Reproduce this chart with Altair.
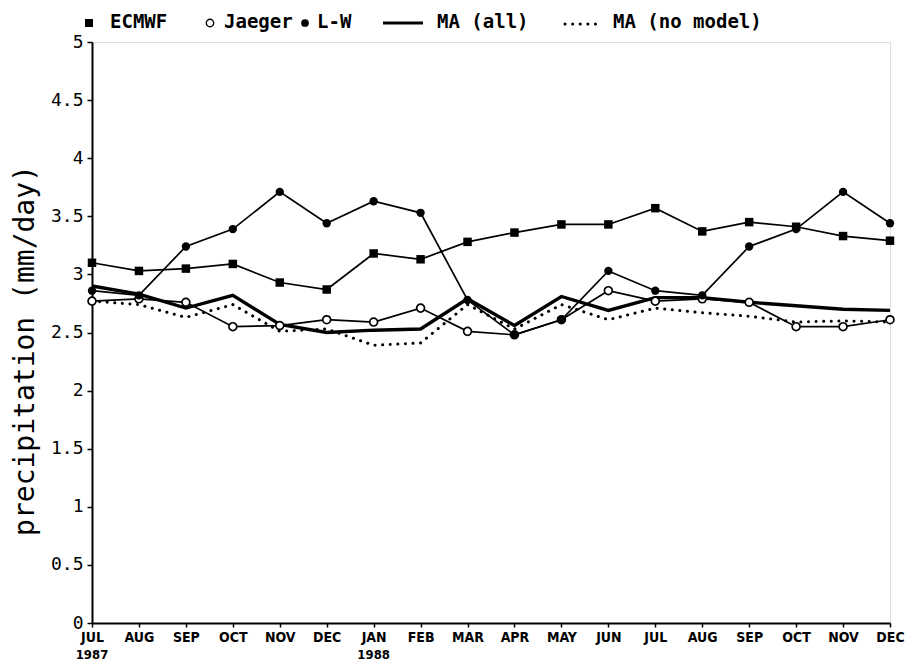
import altair as alt
import pandas as pd

# Monthly precipitation estimates, July 1987 - December 1988 (mm/day)
months = ["JUL", "AUG", "SEP", "OCT", "NOV", "DEC", "JAN", "FEB", "MAR",
          "APR", "MAY", "JUN", "JUL", "AUG", "SEP", "OCT", "NOV", "DEC"]
years = ["1987", "", "", "", "", "", "1988", "", "", "", "", "", "", "", "", "", "", ""]

ecmwf = [3.10, 3.03, 3.05, 3.09, 2.93, 2.87, 3.18, 3.13, 3.28,
         3.36, 3.43, 3.43, 3.57, 3.37, 3.45, 3.41, 3.33, 3.29]
jaeger = [2.77, 2.79, 2.76, 2.55, 2.56, 2.61, 2.59, 2.71, 2.51,
          2.48, 2.61, 2.86, 2.77, 2.79, 2.76, 2.55, 2.55, 2.61]
lw = [2.86, 2.82, 3.24, 3.39, 3.71, 3.44, 3.63, 3.53, 2.78,
      2.48, 2.61, 3.03, 2.86, 2.82, 3.24, 3.39, 3.71, 3.44]
ma_all = [2.90, 2.83, 2.71, 2.82, 2.57, 2.50, 2.52, 2.53, 2.79,
          2.56, 2.81, 2.69, 2.80, 2.80, 2.76, 2.73, 2.70, 2.69]
ma_nomodel = [2.77, 2.74, 2.63, 2.74, 2.51, 2.53, 2.39, 2.41, 2.74,
              2.53, 2.74, 2.61, 2.71, 2.67, 2.64, 2.59, 2.60, 2.59]

legend_names = ["ECMWF", "Jaeger", "L-W", "MA (all)", "MA (no model)"]

idx = list(range(len(months)))
df = pd.DataFrame({
    "i": idx,
    "year": years,
    "ECMWF": ecmwf,
    "Jaeger": jaeger,
    "L-W": lw,
    "MA (all)": ma_all,
    "MA (no model)": ma_nomodel,
})

W, H = 798, 581
CONDENSED = "DejaVu Sans Condensed"
MONO = "DejaVu Sans Mono"

months_js = "[" + ",".join(f"'{m}'" for m in months) + "]"

x = alt.X("i:Q",
          scale=alt.Scale(domain=[0, len(months) - 1], nice=False, zero=False),
          axis=alt.Axis(values=idx, labelExpr=f"{months_js}[datum.value]", title=None,
                        grid=False, domainColor="black", domainWidth=2, tickColor="black",
                        tickSize=4, tickWidth=1.5, labelFont=CONDENSED,
                        labelFontSize=14, labelFontWeight="bold", labelColor="black",
                        labelPadding=3, labelFlush=False, labelBaseline="top"))
y_ticks = [v / 2 for v in range(11)]


def yenc(col):
    return alt.Y(f"{col}:Q",
                 scale=alt.Scale(domain=[0, 5], nice=False),
                 axis=alt.Axis(values=y_ticks, format="~g", title="precipitation (mm/day)",
                               grid=False, domainColor="black", domainWidth=2,
                               tickColor="black", tickSize=5, tickWidth=1.5,
                               labelFont=MONO, labelFontSize=18, labelColor="black",
                               labelPadding=4, titleFont=MONO, titleFontSize=28,
                               titleFontWeight="normal", titleColor="black",
                               titleAngle=270, titleAlign="center",
                               titleBaseline="middle", titleX=-67, titleY=308))


base = alt.Chart(df)

ecmwf_line = base.mark_line(color="black", strokeWidth=1.7).encode(x=x, y=yenc("ECMWF"))
ecmwf_pts = base.mark_point(shape="square", filled=True, color="black", size=72,
                            opacity=1).encode(x=x, y=yenc("ECMWF"))
jaeger_line = base.mark_line(color="black", strokeWidth=1.7).encode(x=x, y=yenc("Jaeger"))
jaeger_pts = base.mark_point(shape="circle", filled=True, fill="white", stroke="black",
                             strokeWidth=1.7, size=62, opacity=1).encode(x=x, y=yenc("Jaeger"))
lw_line = base.mark_line(color="black", strokeWidth=1.7).encode(x=x, y=yenc("L-W"))
lw_pts = base.mark_point(shape="circle", filled=True, color="black", size=70,
                         opacity=1).encode(x=x, y=yenc("L-W"))
ma_line = base.mark_line(color="black", strokeWidth=3.4).encode(x=x, y=yenc("MA (all)"))
mn_line = base.mark_line(color="black", strokeWidth=3, strokeDash=[0.1, 7.5],
                         strokeCap="round").encode(x=x, y=yenc("MA (no model)"))

# year line under the first month of each year
year_text = base.transform_filter("datum.year != ''").mark_text(
    baseline="top", align="center", font=CONDENSED, fontSize=13, fontWeight="bold",
    color="black").encode(x=x, y=alt.value(H + 26), text="year:N")

# legend row above the frame (offsets from the plot's left edge)
LY = -20
leg_text_x = [18, 132, 225, 345, 521]
leg_df = pd.DataFrame({"name": legend_names, "px": leg_text_x})
leg_text = alt.Chart(leg_df).mark_text(
    align="left", baseline="middle", font=MONO, fontSize=19, fontWeight="bold",
    color="black").encode(x=alt.X("px:Q", scale=None), y=alt.value(LY), text="name:N")

one = pd.DataFrame({"k": [0]})
sq = alt.Chart(one).mark_point(shape="square", filled=True, color="black", size=64,
                               opacity=1).encode(x=alt.value(-3), y=alt.value(LY + 1))
oc = alt.Chart(one).mark_point(shape="circle", filled=True, fill="white", stroke="black",
                               strokeWidth=1.4, size=55, opacity=1).encode(
    x=alt.value(118), y=alt.value(LY + 1))
fc = alt.Chart(one).mark_point(shape="circle", filled=True, color="black", size=60,
                               opacity=1).encode(x=alt.value(213), y=alt.value(LY + 1))
thick = alt.Chart(one).mark_rule(color="black", strokeWidth=3).encode(
    x=alt.value(291), x2=alt.value(331), y=alt.value(LY + 1))
dots = alt.Chart(one).mark_rule(color="black", strokeWidth=3, strokeDash=[0.1, 7.5],
                                strokeCap="round").encode(
    x=alt.value(473), x2=alt.value(507), y=alt.value(LY + 2))

chart = alt.layer(
    ecmwf_line, jaeger_line, lw_line, ma_line, mn_line,
    ecmwf_pts, jaeger_pts, lw_pts, year_text,
    leg_text, sq, oc, fc, thick, dots,
).properties(
    width=W, height=H,
    padding={"left": 92, "top": 42, "right": 18, "bottom": 40},
    autosize=alt.AutoSizeParams(type="none"),
).configure_view(
    stroke="black", strokeWidth=2
).configure(background="white")

chart.save("out.html", embed_options={"renderer": "svg", "actions": False})
